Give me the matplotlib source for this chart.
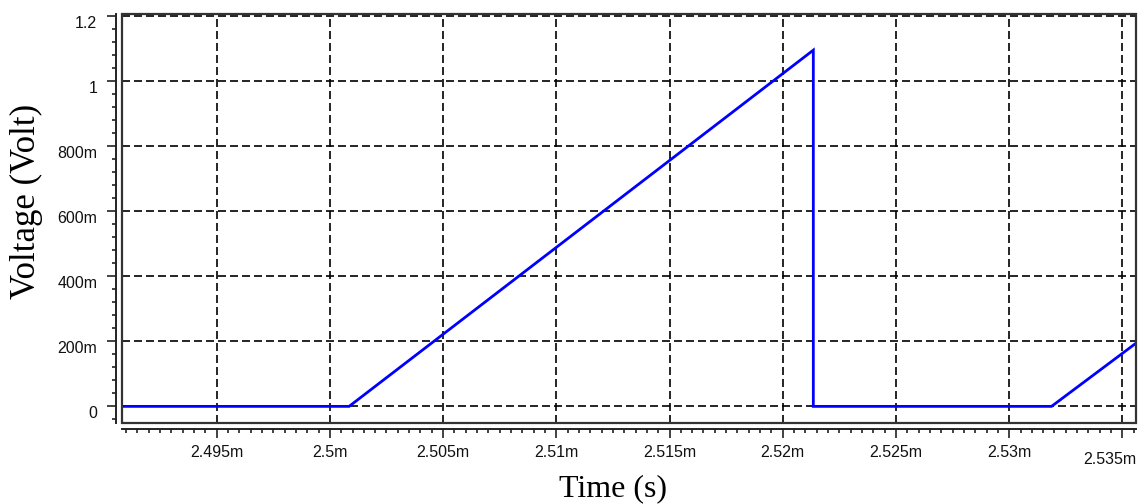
import matplotlib
matplotlib.use("Agg")
import matplotlib.pyplot as plt
from matplotlib.ticker import MultipleLocator
from matplotlib.patches import Rectangle
from matplotlib.transforms import ScaledTranslation

plt.rcParams['font.family'] = ['Liberation Sans', 'DejaVu Sans']

# Waveform (time in s, voltage in V)
time_s = [2.49082e-3, 2.50085e-3, 2.52135e-3, 2.52135e-3, 2.53187e-3, 2.5356e-3]
volt = [0.0, 0.0, 1.094, 0.0, 0.0, 0.194]

x_ticks = [2.495e-3, 2.500e-3, 2.505e-3, 2.510e-3, 2.515e-3,
           2.520e-3, 2.525e-3, 2.530e-3, 2.535e-3]
x_labels = ['2.495m', '2.5m', '2.505m', '2.51m', '2.515m',
            '2.52m', '2.525m', '2.53m', '2.535m']
y_ticks = [0.0, 0.2, 0.4, 0.6, 0.8, 1.0, 1.2]
y_labels = ['0', '200m', '400m', '600m', '800m', '1', '1.2']

fig = plt.figure(figsize=(11.39, 5.04), dpi=100)
ax = fig.add_axes([0.10711, 0.16012, 0.89025, 0.8121])

# detached axes + frame around plot area (set first: moving spines resets ticks)
for s in ['top', 'right']:
    ax.spines[s].set_visible(False)
ax.spines['left'].set_position(('outward', 4.3))
ax.spines['bottom'].set_position(('outward', 4.1))
for s in ['left', 'bottom']:
    ax.spines[s].set_linewidth(1.4)
    ax.spines[s].set_color('#222222')
ax.add_patch(Rectangle((0, 0), 1, 1, transform=ax.transAxes, fill=False,
                       lw=1.6, ec='#333333', clip_on=False, zorder=4))

ax.plot(time_s, volt, color='#0000ff', lw=2.0, solid_joinstyle='miter', zorder=3)

ax.set_xlim(2.49082e-3, 2.5356e-3)
ax.set_ylim(-0.052, 1.205)

# grid
ax.grid(True, which='major', color='black', lw=1.2, linestyle=(0, (4.8, 2.4)))

# ticks
ax.set_xticks(x_ticks, x_labels)
ax.set_yticks(y_ticks, y_labels)
ax.xaxis.set_minor_locator(MultipleLocator(0.5e-6))
ax.yaxis.set_minor_locator(MultipleLocator(0.04))
ax.tick_params(axis='both', which='major', length=6.5, width=1.2, color='#222222',
               labelsize=11.5, labelcolor='#111111')
ax.tick_params(axis='both', which='minor', length=3, width=1.2, color='#222222')
ax.tick_params(axis='x', which='major', pad=5)
ax.tick_params(axis='y', which='major', pad=7)
for lab in ax.get_yticklabels():
    lab.set_verticalalignment('top')

# last x label sits lower and shifted left in the reference
last = ax.xaxis.get_major_ticks()[-1]
last.label1.set_transform(last.label1.get_transform() +
                          ScaledTranslation(-0.13, -0.07, fig.dpi_scale_trans))

fig.text(26 / 1139, 1 - 201.5 / 504, 'Voltage (Volt)', rotation=90,
         ha='center', va='center', fontsize=25, family='Liberation Serif')
fig.text(613 / 1139, 1 - 489 / 504, 'Time (s)',
         ha='center', va='center', fontsize=23, family='Liberation Serif')

fig.savefig('out.png', dpi=100, facecolor='white')
